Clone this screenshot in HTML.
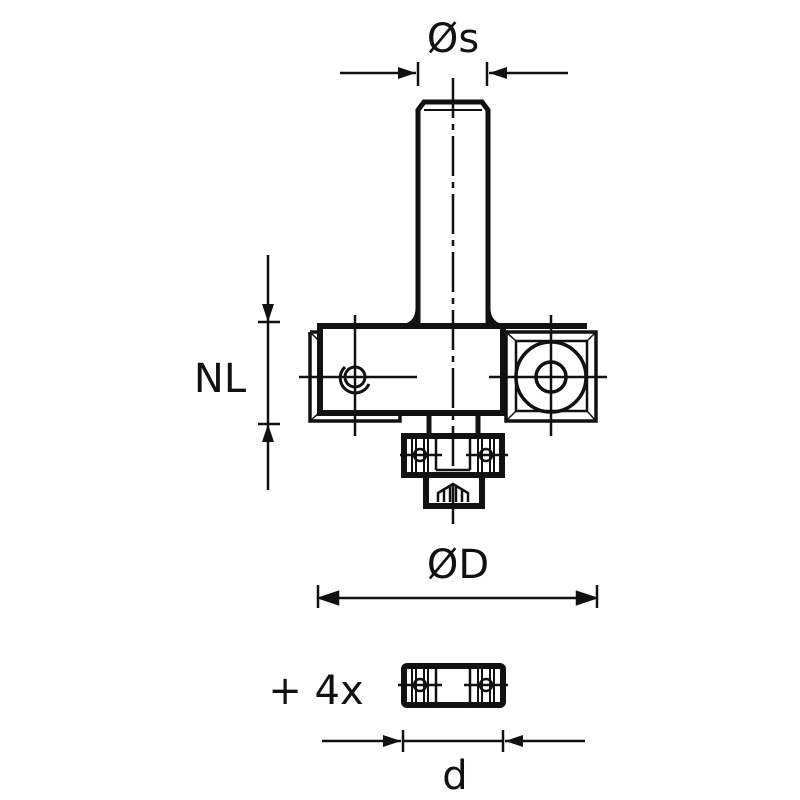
<!DOCTYPE html>
<html><head><style>body{margin:0;background:#fff}svg{display:block}</style></head><body>
<svg width="800" height="800" viewBox="0 0 800 800" xmlns="http://www.w3.org/2000/svg">
<defs><marker id="a" viewBox="0 0 10 10" refX="10" refY="5" markerWidth="18" markerHeight="12" markerUnits="userSpaceOnUse" orient="auto" preserveAspectRatio="none"><path d="M0,0 L10,5 L0,10z" fill="#111"/></marker></defs>
<g font-family="'DejaVu Sans','Liberation Sans',sans-serif" font-size="40" fill="#111" text-anchor="middle">
<text x="453" y="52">Øs</text>
<text x="220" y="392">NL</text>
<text x="458" y="578">ØD</text>
<text x="316" y="704">+ 4x</text>
<text x="455" y="789">d</text>
</g>
<g stroke="#111" fill="none" stroke-width="2.5">
<line x1="340" y1="73" x2="416" y2="73" marker-end="url(#a)"/>
<line x1="568" y1="73" x2="489" y2="73" marker-end="url(#a)"/>
<line x1="418" y1="62" x2="418" y2="86"/><line x1="487" y1="62" x2="487" y2="86"/>
<line x1="268" y1="255" x2="268" y2="322" marker-end="url(#a)"/>
<line x1="268" y1="490" x2="268" y2="424" marker-end="url(#a)"/>
<line x1="258" y1="322" x2="280" y2="322"/><line x1="258" y1="424" x2="280" y2="424"/>
<line x1="268" y1="322" x2="268" y2="424"/>
<line x1="320" y1="598" x2="595" y2="598"/>
<path d="M338,592 L320,598 L338,604z M577,592 L595,598 L577,604z" fill="#111"/>
<line x1="318" y1="585" x2="318" y2="608"/><line x1="597" y1="585" x2="597" y2="608"/>
<line x1="322" y1="741" x2="401" y2="741" marker-end="url(#a)"/>
<line x1="585" y1="741" x2="505" y2="741" marker-end="url(#a)"/>
<line x1="403" y1="730" x2="403" y2="752"/><line x1="503" y1="730" x2="503" y2="752"/>
<line x1="403" y1="741" x2="503" y2="741"/>
<path d="M418,326 L418,110 L424,102 L482,102 L488,110 L488,326" stroke-width="5"/>
<path d="M406,326 Q418,322 418,308 M500,326 Q488,322 488,308" stroke-width="5"/>
<line x1="424" y1="110" x2="482" y2="110" stroke-width="2"/>
<line x1="453" y1="78" x2="453" y2="530" stroke-width="2.5" stroke-dasharray="40,6,6,6"/>
<line x1="320" y1="326" x2="587" y2="326" stroke-width="6"/>
<rect x="320" y="326" width="183" height="87" stroke-width="6"/>
<path d="M310,332 L320,332 M310,332 L310,421 L400,421 L400,413" stroke-width="3.5"/>
<path d="M310,332 L322,344 L322,410 L310,421" stroke-width="1.5"/>
<circle cx="355" cy="377" r="10" stroke-width="3"/>
<path d="M345,367 A15,15 0 1 0 369,384" stroke-width="3"/>
<line x1="299" y1="377" x2="417" y2="377"/>
<line x1="355" y1="315" x2="355" y2="436"/>
<rect x="506" y="332" width="90" height="89" stroke-width="3.5"/>
<rect x="516" y="341" width="71" height="70" stroke-width="2.5"/>
<path d="M506,332 L516,341 M596,332 L587,341 M506,421 L516,411 M596,421 L587,411" stroke-width="1.5"/>
<circle cx="551" cy="377" r="35" stroke-width="3.5"/>
<circle cx="551" cy="377" r="15" stroke-width="3.5"/>
<line x1="489" y1="377" x2="607" y2="377"/>
<line x1="551" y1="315" x2="551" y2="436"/>
<line x1="429" y1="413" x2="429" y2="435" stroke-width="5"/>
<line x1="478" y1="413" x2="478" y2="435" stroke-width="5"/>
<rect x="404" y="436" width="98" height="39" stroke-width="6"/>
<rect x="426" y="475" width="56" height="31" stroke-width="6"/>
<path d="M438,502 L438,493 L453,484 L468,493 L468,502 M444,490 V502 M450,487 V502 M456,487 V502 M462,490 V502" stroke-width="2.5"/>
<line x1="436" y1="436" x2="436" y2="470" stroke-width="2.5"/><line x1="470" y1="436" x2="470" y2="470" stroke-width="2.5"/>
<line x1="436" y1="470" x2="470" y2="470" stroke-width="2.5"/>
<g id="b">
<circle cx="420" cy="455" r="6" stroke-width="2.5"/>
<line x1="400" y1="455" x2="442" y2="455" stroke-width="2.5"/>
<path d="M412,438 V473 M416,438 V473 M424,438 V473 M428,438 V473" stroke-width="2"/>
</g>
<use href="#b" x="66"/>
<rect x="404" y="666" width="99" height="39" rx="3" stroke-width="6"/>
<line x1="436" y1="666" x2="436" y2="705" stroke-width="2.5"/><line x1="470" y1="666" x2="470" y2="705" stroke-width="2.5"/>
<g id="c">
<circle cx="420" cy="685" r="6" stroke-width="2.5"/>
<line x1="398" y1="685" x2="442" y2="685" stroke-width="2.5"/>
<path d="M412,668 V703 M416,668 V703 M424,668 V703 M428,668 V703" stroke-width="2"/>
</g>
<use href="#c" x="66"/>
</g>
</svg>
</body></html>
